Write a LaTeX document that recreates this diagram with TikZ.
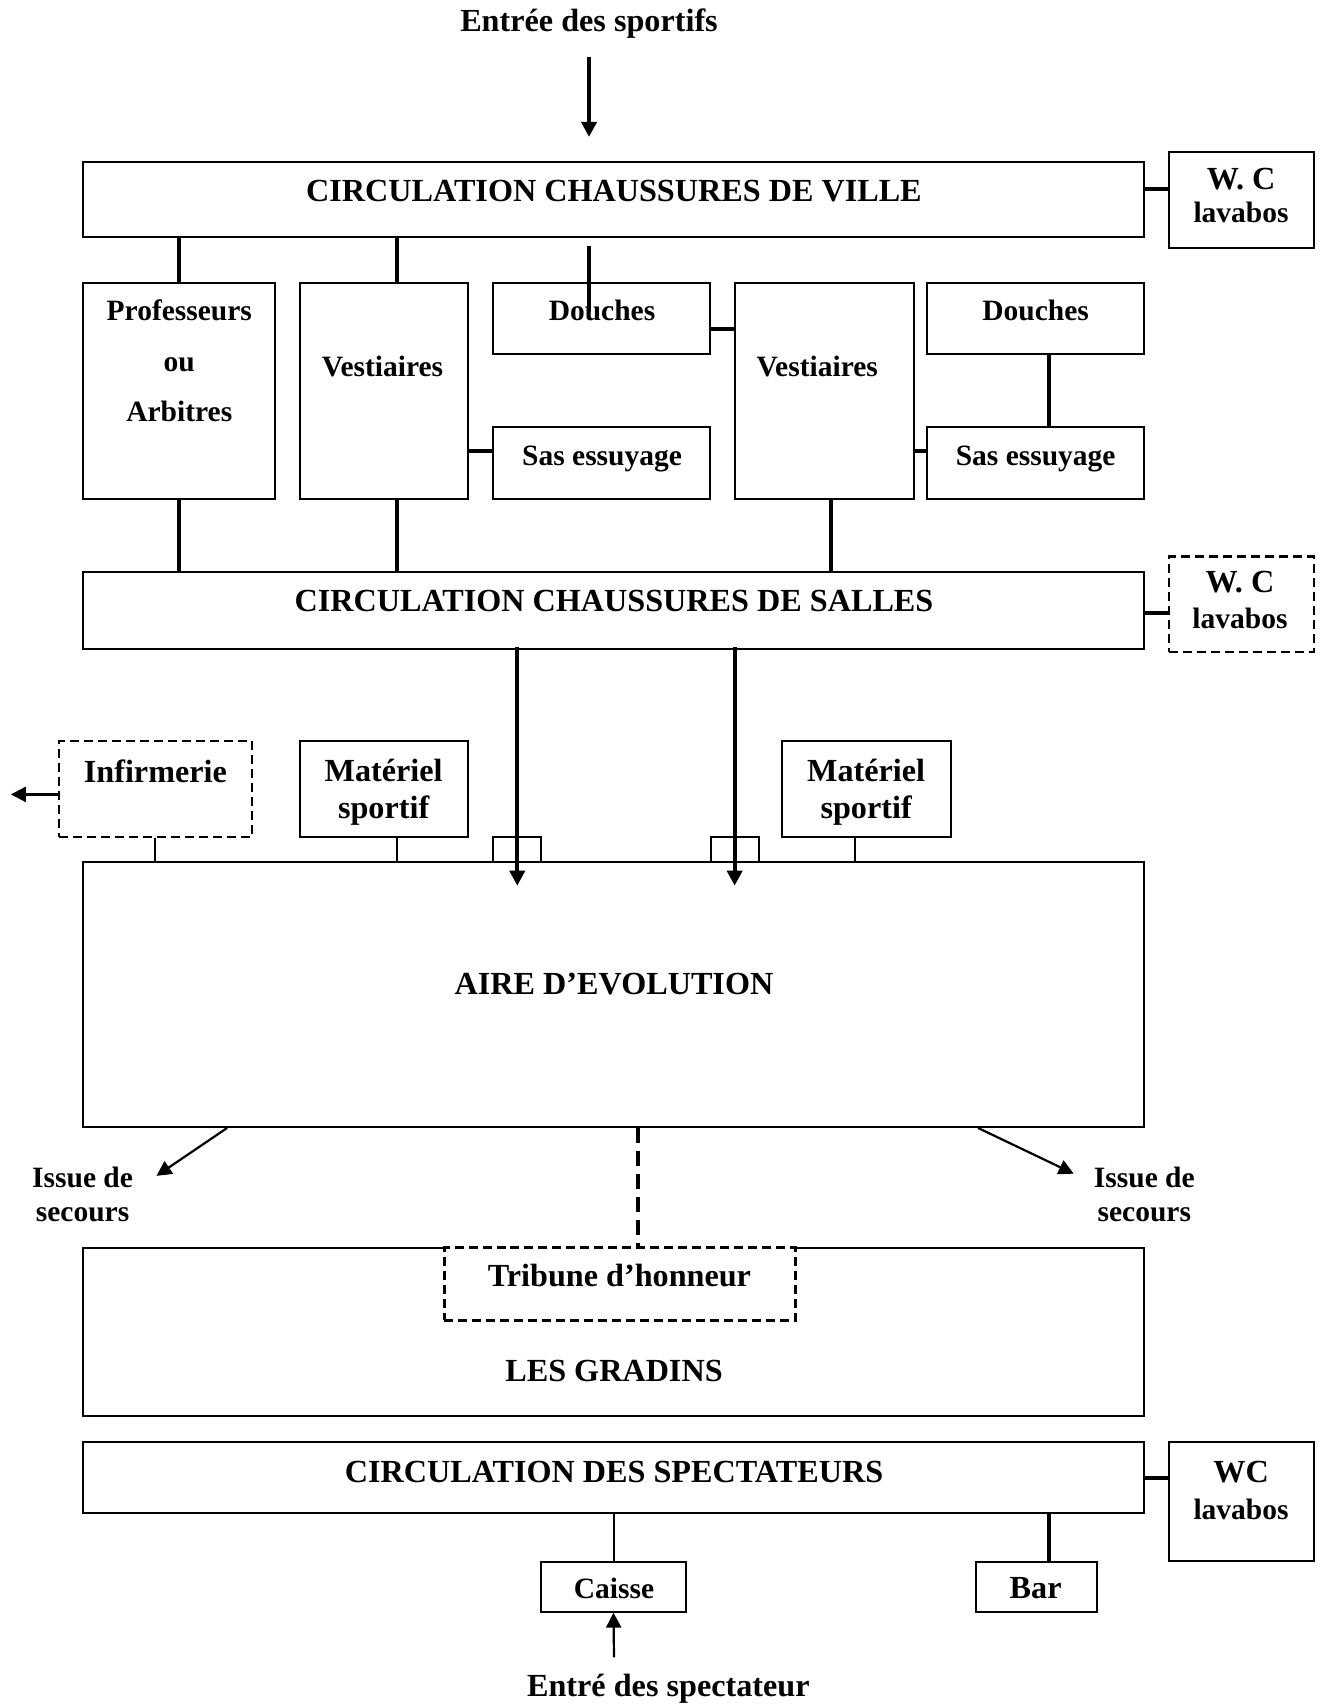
\documentclass[tikz,border=0pt]{standalone}
\usepackage{fontspec}
\setmainfont{Liberation Serif}
\usetikzlibrary{fit,arrows.meta}
\begin{document}
\begin{tikzpicture}[x=1.087pt,y=-1.087pt,
  room/.style={draw, line width=2pt, inner sep=0pt},
  dashroom/.style={room, line width=2.3pt, dash pattern=on 9pt off 5pt},
  lbl/.style={font=\bfseries\fontsize{32.2}{35}\selectfont, inner sep=0pt, anchor=base},
  small/.style={lbl, font=\bfseries\fontsize{29.5}{33}\selectfont},
  link/.style={line width=4pt},
  thinlink/.style={line width=1.9pt},
  flow/.style={line width=4pt, -{Triangle[width=15pt,length=15pt]}},
  thinflow/.style={line width=2.2pt, -{Triangle[width=15pt,length=15pt]}},
]
\useasboundingbox (0,0) rectangle (1218,1568);

% column and end-point helpers
\coordinate (c143) at (143,0);
\coordinate (c165) at (165,0);
\coordinate (c209) at (209,0);
\coordinate (c365) at (365,0);
\coordinate (c476) at (476,0);
\coordinate (c565) at (565,0);
\coordinate (c587) at (587,0);
\coordinate (c676) at (676,0);
\coordinate (c765) at (765,0);
\coordinate (c787) at (787,0);
\coordinate (c900) at (900,0);
\coordinate (c965) at (965,0);
\coordinate (r174) at (0,174);
\coordinate (r303) at (0,303);
\coordinate (r415) at (0,415);
\coordinate (r564) at (0,564);
\coordinate (r731) at (0,731);
\coordinate (r1360) at (0,1360);
\coordinate (inTop) at (542,52);
\coordinate (inTip) at (542,126);
\coordinate (doucheA) at (542,226);
\coordinate (doucheB) at (542,287);
\coordinate (tip476) at (476,815);
\coordinate (tip676) at (676,815);
\coordinate (exitW) at (10,731);
\coordinate (exitSW) at (144,1082);
\coordinate (exitSE) at (988,1080);
\coordinate (spectIn) at (565,1525);

% rooms
\node[room, fit={(76,149)(1053,218)}] (ville) {};
\node[room, fit={(1076,140)(1209,228)}] (wc1) {};
\node[room, fit={(76,260)(253,459)}] (prof) {};
\node[room, fit={(276,260)(431,459)}] (vest1) {};
\node[room, fit={(454,260)(653,326)}] (douche1) {};
\node[room, fit={(454,393)(653,459)}] (sas1) {};
\node[room, fit={(676,260)(841,459)}] (vest2) {};
\node[room, fit={(853,260)(1053,326)}] (douche2) {};
\node[room, fit={(853,393)(1053,459)}] (sas2) {};
\node[room, fit={(76,526)(1053,597)}] (salles) {};
\node[dashroom, fit={(1076,512)(1209,600)}] (wc2) {};
\node[dashroom, fit={(54,682)(232,770)}] (infirm) {};
\node[room, fit={(276,682)(431,770)}] (mat1) {};
\node[room, fit={(720,682)(875,770)}] (mat2) {};
\node[room, fit={(454,770)(498,793)}] (porte1) {};
\node[room, fit={(654,770)(698,793)}] (porte2) {};
\node[room, fit={(76,793)(1053,1037)}] (aire) {};
\node[room, fit={(76,1148)(1053,1303)}] (gradins) {};
\node[dashroom, fill=white, preaction={draw=white, solid, line width=3pt}, fit={(409,1148)(732,1215)}] (tribune) {};
\node[room, fit={(76,1327)(1053,1392)}] (spect) {};
\node[room, fit={(1076,1327)(1209,1436)}] (wc3) {};
\node[room, fit={(498,1437)(631,1483)}] (caisse) {};
\node[room, fit={(898,1437)(1009,1483)}] (bar) {};

% labels
\node[lbl] (tEntree) at (542,29) {Entrée des sportifs};
\node[lbl] (tVille) at (565,185) {CIRCULATION CHAUSSURES DE VILLE};
\node[lbl] (tWc1a) at (1142,174) {W. C};
\node[small] (tWc1b) at (1142,205) {lavabos};
\node[small] (tProf1) at (165,295) {Professeurs};
\node[small] (tProf2) at (165,342) {ou};
\node[small] (tProf3) at (165,388) {Arbitres};
\node[small] (tVest1) at (352,346) {Vestiaires};
\node[small] (tDouche1) at (554,295) {Douches};
\node[small] (tSas1) at (554,428) {Sas essuyage};
\node[small] (tVest2) at (752,346) {Vestiaires};
\node[small] (tDouche2) at (953,295) {Douches};
\node[small] (tSas2) at (953,428) {Sas essuyage};
\node[lbl] (tSalles) at (565,563) {CIRCULATION CHAUSSURES DE SALLES};
\node[lbl] (tWc2a) at (1141,545) {W. C};
\node[small] (tWc2b) at (1141,578) {lavabos};
\node[lbl] (tInfirm) at (143,720) {Infirmerie};
\node[lbl] (tMat1a) at (353,719) {Matériel};
\node[lbl] (tMat1b) at (353,753) {sportif};
\node[lbl] (tMat2a) at (797,719) {Matériel};
\node[lbl] (tMat2b) at (797,753) {sportif};
\node[lbl] (tAire) at (565,915) {AIRE D’EVOLUTION};
\node[small] (tIssueL1) at (76,1093) {Issue de};
\node[small] (tIssueL2) at (76,1124) {secours};
\node[small] (tIssueR1) at (1053,1093) {Issue de};
\node[small] (tIssueR2) at (1053,1124) {secours};
\node[lbl] (tTribune) at (570,1184) {Tribune d’honneur};
\node[lbl] (tGradins) at (565,1271) {LES GRADINS};
\node[lbl] (tSpect) at (565,1364) {CIRCULATION DES SPECTATEURS};
\node[lbl] (tWc3a) at (1142,1364) {WC};
\node[small] (tWc3b) at (1142,1398) {lavabos};
\node[small] (tCaisse) at (565,1471) {Caisse};
\node[lbl] (tBar) at (953,1471) {Bar};
\node[lbl] (tSpectIn) at (615,1561) {Entré des spectateur};

% athletes' side
\draw[flow] (inTop) -- (inTip);
\draw[link] (ville.east |- r174) -- (wc1.west |- r174);
\draw[link] (ville.south -| c165) -- (prof.north -| c165);
\draw[link] (ville.south -| c365) -- (vest1.north -| c365);
\draw[link] (doucheA) -- (doucheB);
\draw[link] (douche1.east |- r303) -- (vest2.west |- r303);
\draw[link] (vest1.east |- r415) -- (sas1.west |- r415);
\draw[link] (vest2.east |- r415) -- (sas2.west |- r415);
\draw[link] (douche2.south -| c965) -- (sas2.north -| c965);
\draw[link] (prof.south -| c165) -- (salles.north -| c165);
\draw[link] (vest1.south -| c365) -- (salles.north -| c365);
\draw[link] (vest2.south -| c765) -- (salles.north -| c765);
\draw[link] (salles.east |- r564) -- (wc2.west |- r564);

% into the playing area
\draw[flow] ([yshift=3pt]salles.south -| c476) -- (tip476);
\draw[flow] ([yshift=3pt]salles.south -| c676) -- (tip676);
\draw[thinflow] (infirm.west |- r731) -- (exitW);
\draw[thinlink] (infirm.south -| c143) -- (aire.north -| c143);
\draw[thinlink] (mat1.south -| c365) -- (aire.north -| c365);
\draw[thinlink] (mat2.south -| c787) -- (aire.north -| c787);

% emergency exits and stands
\draw[thinflow] (aire.south -| c209) -- (exitSW);
\draw[thinflow] (aire.south -| c900) -- (exitSE);
\draw[line width=3.5pt, dash pattern=on 15pt off 8pt] (aire.south -| c587) -- (tribune.north -| c587);

% spectators' side
\draw[link] (spect.east |- r1360) -- (wc3.west |- r1360);
\draw[thinlink] (spect.south -| c565) -- (caisse.north -| c565);
\draw[link] (spect.south -| c965) -- (bar.north -| c965);
\draw[thinflow] (spectIn) -- (caisse.south);
\end{tikzpicture}
\end{document}
